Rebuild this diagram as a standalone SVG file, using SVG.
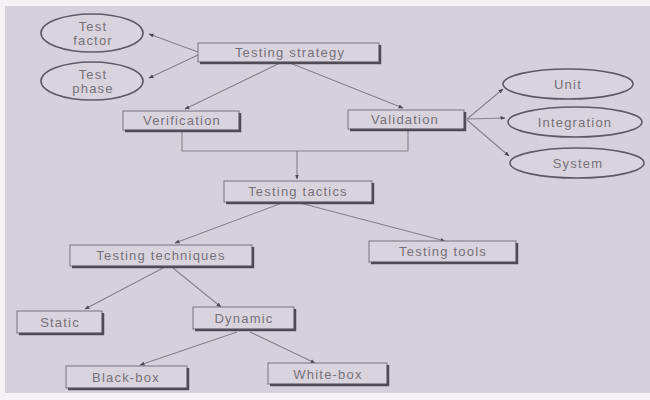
<svg xmlns="http://www.w3.org/2000/svg" width="650" height="400" viewBox="0 0 650 400">
  <defs>
    <style>
      .bg { fill: #d6d0da; }
      .box { fill: #d9d3dd; stroke: #77727c; stroke-width: 1; }
      .shade { fill: none; stroke: #4f4b55; stroke-width: 2.5; }
      .oval { fill: #d9d3dd; stroke: #5e5a64; stroke-width: 1.6; }
      .lbl { font-family: "Liberation Sans", Arial, sans-serif; font-size: 13px; fill: #76717b; text-anchor: middle; dominant-baseline: central; letter-spacing: 1.2px; }
      .edge { fill: none; stroke: #86808a; stroke-width: 1.1; }
    </style>
    <marker id="arrow" viewBox="0 0 10 10" refX="9" refY="5" markerWidth="5" markerHeight="5" orient="auto" markerUnits="userSpaceOnUse">
      <path d="M0,1 L10,5 L0,9 Z" fill="#4f4b55"/>
    </marker>
  </defs>

  <!-- page -->
  <rect width="650" height="400" fill="#f4f2f5"/>
  <rect class="bg" x="5" y="6" width="645" height="387"/>

  <!-- connectors -->
  <g id="connectors">
    <line class="edge" x1="198" y1="52" x2="149" y2="34" marker-end="url(#arrow)"/>
    <line class="edge" x1="198" y1="55" x2="149" y2="78" marker-end="url(#arrow)"/>
    <line class="edge" x1="280" y1="63" x2="185" y2="109" marker-end="url(#arrow)"/>
    <line class="edge" x1="290" y1="63" x2="403" y2="108" marker-end="url(#arrow)"/>
    <line class="edge" x1="467" y1="119" x2="503" y2="89" marker-end="url(#arrow)"/>
    <line class="edge" x1="467" y1="119" x2="505" y2="118" marker-end="url(#arrow)"/>
    <line class="edge" x1="467" y1="120" x2="509" y2="156" marker-end="url(#arrow)"/>
    <polyline class="edge" points="182,131 182,151 408,151 408,130"/>
    <line class="edge" x1="297" y1="151" x2="297" y2="179" marker-end="url(#arrow)"/>
    <line class="edge" x1="282" y1="203" x2="175" y2="243" marker-end="url(#arrow)"/>
    <line class="edge" x1="300" y1="203" x2="445" y2="241" marker-end="url(#arrow)"/>
    <line class="edge" x1="163" y1="268" x2="85" y2="309" marker-end="url(#arrow)"/>
    <line class="edge" x1="173" y1="268" x2="221" y2="307" marker-end="url(#arrow)"/>
    <line class="edge" x1="237" y1="332" x2="140" y2="365" marker-end="url(#arrow)"/>
    <line class="edge" x1="250" y1="332" x2="315" y2="363" marker-end="url(#arrow)"/>
  </g>

  <!-- ellipse nodes -->
  <g id="test-factor">
    <ellipse class="oval" cx="92" cy="33" rx="51" ry="19"/>
    <text class="lbl" x="93" y="26">Test</text>
    <text class="lbl" x="93" y="40">factor</text>
  </g>
  <g id="test-phase">
    <ellipse class="oval" cx="92" cy="81" rx="51" ry="19"/>
    <text class="lbl" x="93" y="74">Test</text>
    <text class="lbl" x="93" y="88">phase</text>
  </g>
  <g id="unit">
    <ellipse class="oval" cx="568" cy="84" rx="65" ry="15"/>
    <text class="lbl" x="568" y="84">Unit</text>
  </g>
  <g id="integration">
    <ellipse class="oval" cx="575" cy="122" rx="67" ry="15"/>
    <text class="lbl" x="575" y="122">Integration</text>
  </g>
  <g id="system">
    <ellipse class="oval" cx="577" cy="163" rx="67" ry="15"/>
    <text class="lbl" x="578" y="163">System</text>
  </g>

  <!-- box nodes -->
  <g id="testing-strategy">
    <rect class="box" x="198" y="43" width="181" height="19"/>
    <polyline class="shade" points="200,63 380,63 380,45"/>
    <text class="lbl" x="290" y="52">Testing strategy</text>
  </g>
  <g id="verification">
    <rect class="box" x="123" y="111" width="116" height="19"/>
    <polyline class="shade" points="125,131 240,131 240,113"/>
    <text class="lbl" x="182" y="120">Verification</text>
  </g>
  <g id="validation">
    <rect class="box" x="348" y="110" width="116" height="19"/>
    <polyline class="shade" points="350,130 465,130 465,112"/>
    <text class="lbl" x="405" y="119">Validation</text>
  </g>
  <g id="testing-tactics">
    <rect class="box" x="224" y="181" width="148" height="21"/>
    <polyline class="shade" points="226,203 373,203 373,183"/>
    <text class="lbl" x="298" y="191">Testing tactics</text>
  </g>
  <g id="testing-techniques">
    <rect class="box" x="70" y="245" width="182" height="21"/>
    <polyline class="shade" points="72,267 253,267 253,247"/>
    <text class="lbl" x="161" y="255">Testing techniques</text>
  </g>
  <g id="testing-tools">
    <rect class="box" x="369" y="241" width="147" height="21"/>
    <polyline class="shade" points="371,263 517,263 517,243"/>
    <text class="lbl" x="443" y="251">Testing tools</text>
  </g>
  <g id="static">
    <rect class="box" x="17" y="311" width="85" height="22"/>
    <polyline class="shade" points="19,334 103,334 103,313"/>
    <text class="lbl" x="60" y="322">Static</text>
  </g>
  <g id="dynamic">
    <rect class="box" x="193" y="307" width="101" height="22"/>
    <polyline class="shade" points="195,330 295,330 295,309"/>
    <text class="lbl" x="244" y="318">Dynamic</text>
  </g>
  <g id="black-box">
    <rect class="box" x="66" y="366" width="121" height="22"/>
    <polyline class="shade" points="68,389 188,389 188,368"/>
    <text class="lbl" x="126" y="377">Black-box</text>
  </g>
  <g id="white-box">
    <rect class="box" x="268" y="363" width="119" height="21"/>
    <polyline class="shade" points="270,385 388,385 388,365"/>
    <text class="lbl" x="328" y="374">White-box</text>
  </g>
</svg>
